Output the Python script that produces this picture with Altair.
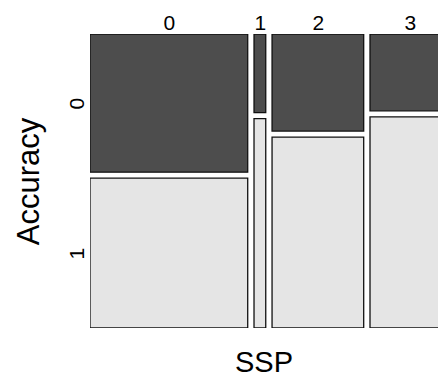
import altair as alt
import pandas as pd

ssp = ["0", "1", "2", "3"]
acc_levels = ["0", "1"]
acc0_counts = [71, 3, 29, 20]
acc1_counts = [77, 8, 57, 55]

DARK = "#4D4D4D"
LIGHT = "#E5E5E5"
FONT = "Liberation Sans"

gx = 0.0185
gy = 0.0208

totals = [a + b for a, b in zip(acc0_counts, acc1_counts)]
N = sum(totals)
rows = []
xc = []
bounds = []
cum = 0.0
for i, (s, a0, t) in enumerate(zip(ssp, acc0_counts, totals)):
    w = t / N
    x0 = cum + i * gx
    x1 = x0 + w
    cum += w
    xc.append((x0 + x1) / 2)
    bounds.append(x1)
    p0 = a0 / t
    rows.append(dict(ssp=s, acc=acc_levels[0], x0=x0, x1=x1, y0=0.0, y1=p0))
    rows.append(dict(ssp=s, acc=acc_levels[1], x0=x0, x1=x1, y0=p0 + gy, y1=1 + gy))
df = pd.DataFrame(rows)

p_first = acc0_counts[0] / totals[0]
yc = [p_first / 2, (p_first + gy + 1 + gy) / 2]

x_expr = ""
for b, s in zip(bounds[:-1], ssp[:-1]):
    x_expr += f"datum.value < {b} ? '{s}' : "
x_expr += f"'{ssp[-1]}'"
y_expr = f"datum.value < {p_first} ? '{acc_levels[0]}' : '{acc_levels[1]}'"

W = 348
H = 294
xmax = W / 341.0

chart = alt.Chart(df).mark_rect(stroke="#111111", strokeWidth=1.3, clip=True).encode(
    x=alt.X("x0:Q", scale=alt.Scale(domain=[0, xmax], nice=False, zero=False),
            axis=alt.Axis(orient="top", values=xc, labelExpr=x_expr, title=None,
                          domain=False, ticks=False, grid=False, labelPadding=1,
                          labelFontSize=21, labelFont=FONT, labelColor="black",
                          labelFlush=False, labelOverlap=False)),
    x2="x1:Q",
    y=alt.Y("y0:Q", scale=alt.Scale(domain=[0, 1 + gy], reverse=True, nice=False, zero=False),
            axis=alt.Axis(values=yc, labelExpr=y_expr, title="Accuracy",
                          domain=False, ticks=False, grid=False, labelPadding=3,
                          labelAngle=270, labelFontSize=21, labelFont=FONT,
                          labelColor="black", labelOverlap=False, labelFlush=False,
                          titleFontSize=31, titleFont=FONT, titleFontWeight="normal",
                          titleColor="black", titlePadding=21)),
    y2="y1:Q",
    color=alt.Color("acc:N", scale=alt.Scale(domain=acc_levels, range=[DARK, LIGHT]), legend=None),
).properties(
    width=W, height=H,
    title=alt.TitleParams("SSP", orient="bottom", fontSize=29, font=FONT,
                          fontWeight="normal", color="black", offset=21, anchor="middle"),
    autosize=alt.AutoSizeParams(type="none"),
    padding={"left": 82, "top": 26, "right": 0, "bottom": 51},
).configure_view(stroke=None)

chart.save("out.html", embed_options={"renderer": "svg", "actions": False})
